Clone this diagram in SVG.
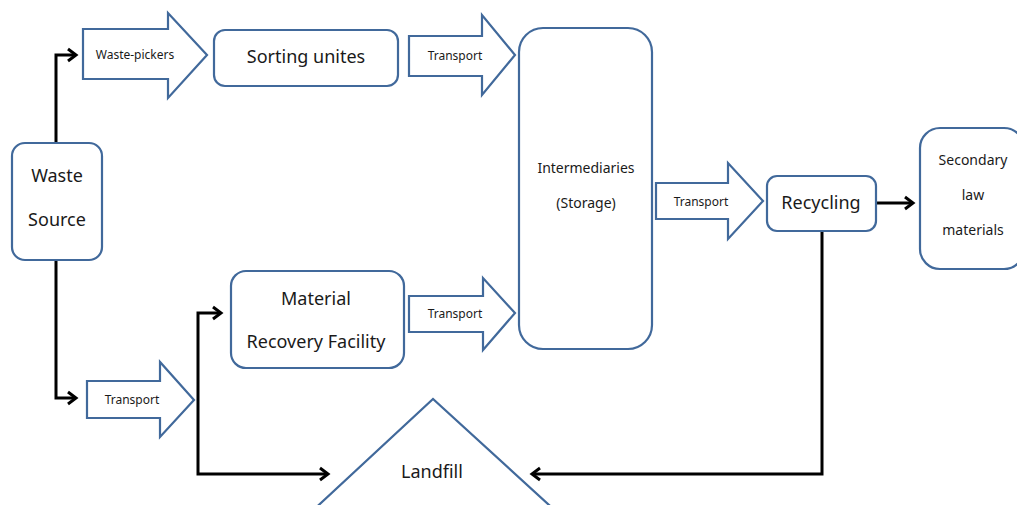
<svg xmlns="http://www.w3.org/2000/svg" width="1017" height="505" viewBox="0 0 1017 505">
<defs>
<style>
.box{fill:#ffffff;stroke:#41699b;stroke-width:2.2}
.blk{fill:#ffffff;stroke:#41699b;stroke-width:2.2;stroke-linejoin:miter}
.con{fill:none;stroke:#000000;stroke-width:3}
text{font-family:"Noto Sans","Open Sans","DejaVu Sans",sans-serif;fill:#1a1a1a;text-anchor:middle}
.s{font-size:12px}
.m{font-size:14px}
.l{font-size:18px}
</style>
<marker id="ah" markerUnits="userSpaceOnUse" markerWidth="16" markerHeight="16" viewBox="-12 -8 14 16" refX="0" refY="0" orient="auto">
<path d="M-8,-6 L0,0 L-8,6" fill="none" stroke="#000" stroke-width="3"/>
</marker>
</defs>
<rect width="1017" height="505" fill="#ffffff"/>

<g id="connectors">
<path class="con" d="M56,143 V55 H76" marker-end="url(#ah)"/>
<path class="con" d="M56,260 V398 H76" marker-end="url(#ah)"/>
<path class="con" d="M198,400 V313 H221" marker-end="url(#ah)"/>
<path class="con" d="M198,400 V474 H328" marker-end="url(#ah)"/>
<path class="con" d="M822,231 V474 H532" marker-end="url(#ah)"/>
<path class="con" d="M876,203 H913" marker-end="url(#ah)"/>
</g>

<g id="waste-source">
<rect class="box" x="12" y="143" width="90" height="117" rx="13"/>
<text class="l" x="57" y="182">Waste</text>
<text class="l" x="57" y="226">Source</text>
</g>

<g id="waste-pickers">
<path class="blk" d="M83,29 H168 V13 L207,55 L168,98 V79 H83 Z"/>
<text class="s" x="135" y="59">Waste-pickers</text>
</g>

<g id="sorting-unites">
<rect class="box" x="214" y="30" width="184" height="56" rx="11"/>
<text class="l" x="306" y="63">Sorting unites</text>
</g>

<g id="transport-top">
<path class="blk" d="M409,36 H482 V15 L515,55 L482,95 V76 H409 Z"/>
<text class="s" x="455" y="60">Transport</text>
</g>

<g id="intermediaries">
<rect class="box" x="519" y="28" width="133" height="321" rx="24"/>
<text class="m" x="586" y="173">Intermediaries</text>
<text class="m" x="586" y="208">(Storage)</text>
</g>

<g id="transport-mid">
<path class="blk" d="M656,183 H728 V163 L763,201 L728,239 V219 H656 Z"/>
<text class="s" x="701" y="206">Transport</text>
</g>

<g id="recycling">
<rect class="box" x="767" y="176" width="109" height="55" rx="10"/>
<text class="l" x="821" y="209">Recycling</text>
</g>

<g id="secondary">
<rect class="box" x="920" y="128" width="104" height="141" rx="20"/>
<text class="m" x="973" y="165">Secondary</text>
<text class="m" x="973" y="200">law</text>
<text class="m" x="973" y="235">materials</text>
</g>

<g id="mrf">
<rect class="box" x="231" y="271" width="173" height="97" rx="15"/>
<text class="l" x="316" y="305">Material</text>
<text class="l" x="316" y="348">Recovery Facility</text>
</g>

<g id="transport-mrf">
<path class="blk" d="M409,296 H483 V278 L515,313 L483,350 V332 H409 Z"/>
<text class="s" x="455" y="318">Transport</text>
</g>

<g id="transport-bottom">
<path class="blk" d="M87,381 H160 V362 L194,400 L160,437 V418 H87 Z"/>
<text class="s" x="132" y="404">Transport</text>
</g>

<g id="landfill">
<path class="blk" d="M308,515 L433,399 L560,515"/>
<text class="l" x="432" y="478">Landfill</text>
</g>
</svg>
